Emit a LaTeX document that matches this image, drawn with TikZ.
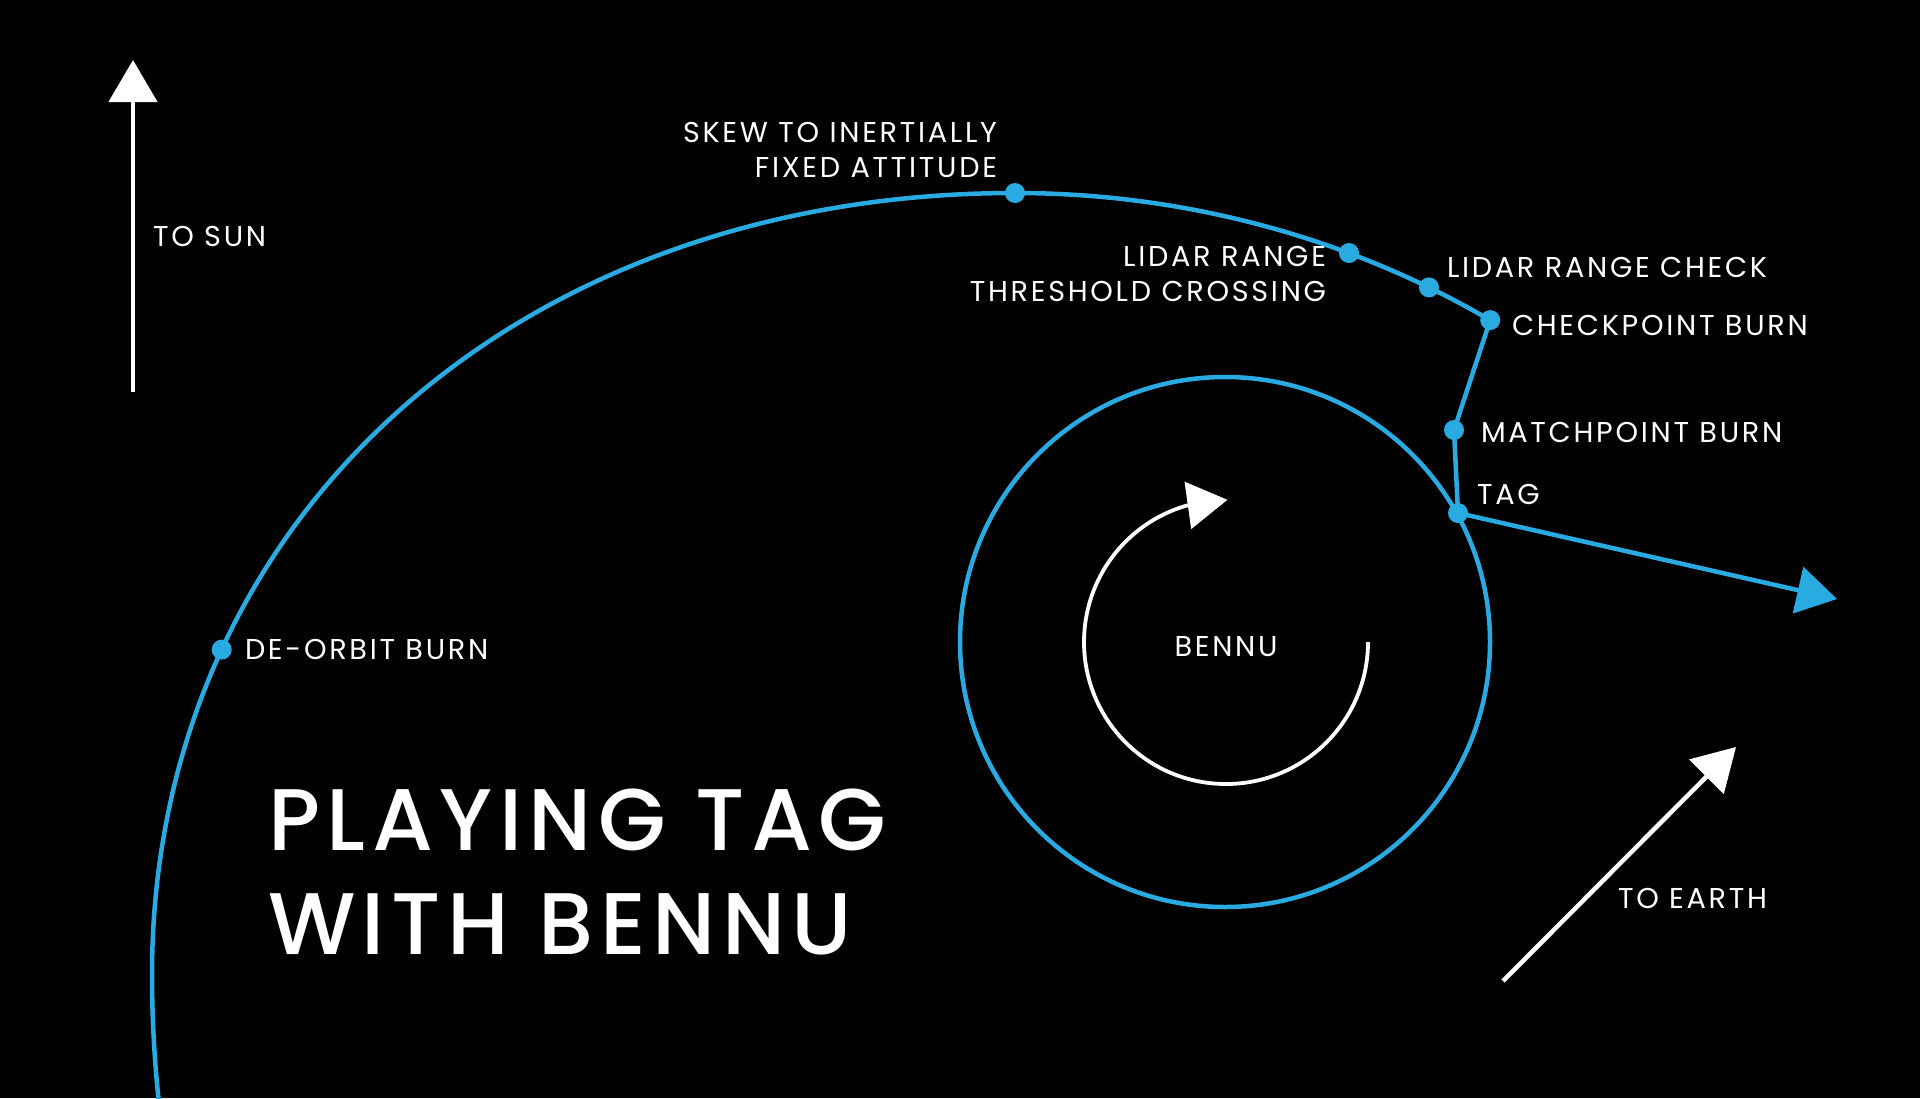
\documentclass[tikz,border=0pt]{standalone}
\usepackage{fontspec}
\setmainfont{Poppins}
\newfontfamily\lblfont{Poppins}[LetterSpace=9.5]
\IfFontExistsTF{Poppins Medium}{\newfontfamily\titlefont{Poppins Medium}[LetterSpace=7.5]}{\newfontfamily\titlefont{Poppins}[LetterSpace=7.5]}
\usetikzlibrary{arrows.meta}
\definecolor{orbitblue}{HTML}{29ABE2}
\begin{document}
\begin{tikzpicture}[x=1pt,y=-1pt,
  every node/.style={inner sep=0pt, outer sep=0pt, text=white},
  lbl/.style={font=\lblfont\fontsize{28.7}{35}\selectfont},
  titletext/.style={font=\titlefont\fontsize{87.5}{104}\selectfont},
  dot/.style={circle, fill=orbitblue, minimum size=20pt},
  traj/.style={draw=orbitblue, line width=4.5pt},
  pointer/.style={draw=white, line width=4.5pt, -{Triangle[length=42pt,width=48pt]}},
]
\fill[black] (0,0) rectangle (1920,1098);
\useasboundingbox (0,0) rectangle (1920,1098);

% direction arrows
\coordinate (sunTail) at (133,392);
\coordinate (sunTip) at (133,60);
\draw[pointer] (sunTail) -- (sunTip);
\node[lbl, anchor=base west] (tosun) at (153,246) {TO SUN};

\coordinate (earthTail) at (1503,981);
\coordinate (earthTip) at (1736,747);
\draw[pointer] (earthTail) -- (earthTip);
\node[lbl, anchor=base west] (toearth) at (1618,908) {TO EARTH};

% Bennu
\node[circle, draw=orbitblue, line width=4.5pt, minimum size=530pt] (bennuorbit) at (1225,642) {};
\draw[white, line width=3.8pt, -{Triangle[length=40pt,width=47pt]}]
  (1368,642) arc[start angle=0, end angle=254, radius=142] -- ++(-8:41);
\node[lbl, anchor=base] (bennu) at (1226,656) {BENNU};

% trajectory events
\node[dot] (deorbit) at (221.7,649.6) {};
\node[dot] (skew) at (1015,193) {};
\node[dot] (lidarA) at (1349,253) {};
\node[dot] (lidarB) at (1429,287.4) {};
\node[dot] (checkpoint) at (1490.2,320.1) {};
\node[dot] (matchpoint) at (1454,430) {};
\node[dot] (tag) at (1458,513) {};
\coordinate (orbitStart) at (159,1104);
\coordinate (exitTip) at (1837,599);

\draw[traj] (orbitStart) .. controls (156,1075) and (152,1030) .. (152,975)
  .. controls (152,520) and (515,193) .. (skew.center)
  arc[start angle=-90, end angle=-57.4, x radius=882, y radius=807]
  -- (matchpoint.center) -- (tag.center);
\draw[traj, -{Triangle[length=40pt,width=47pt]}] (tag.center) -- (exitTip);

% labels
\node[lbl, anchor=base west] (l-deorbit) at (245,659) {DE-ORBIT BURN};
\node[lbl, align=right, anchor=north east] (l-skew) at (997,122) {SKEW TO INERTIALLY\\FIXED ATTITUDE};
\node[lbl, align=right, anchor=north east] (l-lidarA) at (1326,246) {LIDAR RANGE\\THRESHOLD CROSSING};
\node[lbl, anchor=base west] (l-lidarB) at (1447,277) {LIDAR RANGE CHECK};
\node[lbl, anchor=base west] (l-check) at (1512,335) {CHECKPOINT BURN};
\node[lbl, anchor=base west] (l-match) at (1481,442) {MATCHPOINT BURN};
\node[lbl, anchor=base west] (l-tag) at (1477,504) {TAG};

\node[titletext, align=left, anchor=north west] (title) at (268,789) {PLAYING TAG\\WITH BENNU};
\end{tikzpicture}
\end{document}
